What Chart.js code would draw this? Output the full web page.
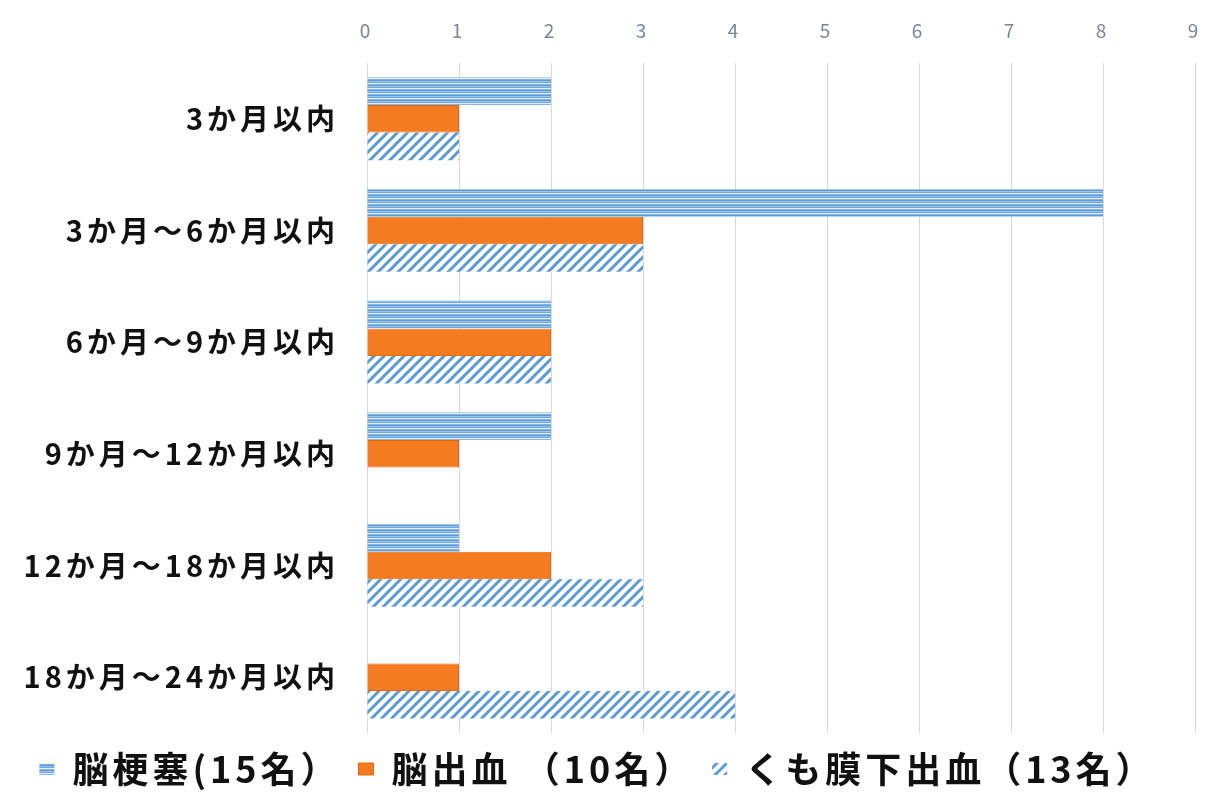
<!DOCTYPE html>
<html>
<head>
<meta charset="utf-8">
<script src="https://cdn.jsdelivr.net/npm/chart.js@4"></script>
<style>
  html, body { margin: 0; padding: 0; background: #fff; overflow: hidden; }
  #wrap { position: relative; width: 1211px; height: 801px; }
  #chart { display: block; }
</style>
</head>
<body>
<div id="wrap"><canvas id="chart"></canvas></div>
<script>
// data
const categories = ["3か月以内", "3か月～6か月以内", "6か月～9か月以内", "9か月～12か月以内", "12か月～18か月以内", "18か月～24か月以内"];
const infarction = [2, 8, 2, 2, 1, 0];
const hemorrhage = [1, 3, 2, 1, 2, 1];
const subarachnoid = [1, 3, 2, 0, 3, 4];
const seriesNames = ["脳梗塞(15名）", "脳出血 （10名）", "くも膜下出血（13名）"];
const xTicks = [0, 1, 2, 3, 4, 5, 6, 7, 8, 9];

const JP = "'Noto Sans CJK JP', 'Noto Sans', sans-serif";

// horizontal stripe fill for 脳梗塞
function stripePattern() {
  const c = document.createElement("canvas");
  c.width = 4; c.height = 5;
  const g = c.getContext("2d");
  const rows = ["#5b9bd5", "#9cc3e8", "#6fa6dc", "#e3eef9", "#86b5e2"];
  rows.forEach((col, i) => { g.fillStyle = col; g.fillRect(0, i, 4, 1); });
  return g.createPattern(c, "repeat");
}

// diagonal hatch fill for くも膜下出血
function hatchPattern() {
  const s = 10;
  const c = document.createElement("canvas");
  c.width = s; c.height = s;
  const g = c.getContext("2d");
  g.fillStyle = "#ffffff";
  g.fillRect(0, 0, s, s);
  g.strokeStyle = "#5b9bd5";
  g.lineWidth = 3;
  g.beginPath();
  g.moveTo(-2, s + 2); g.lineTo(s + 2, -2);
  g.moveTo(-2, 2); g.lineTo(2, -2);
  g.moveTo(s - 2, s + 2); g.lineTo(s + 2, s - 2);
  g.stroke();
  return g.createPattern(c, "repeat");
}

// the source text is set a little loose
const spacing = {
  id: "spacing",
  beforeLayout(chart) { chart.ctx.letterSpacing = "4px"; },
  beforeDraw(chart) { chart.ctx.letterSpacing = "4px"; }
};

const ctx = document.getElementById("chart").getContext("2d");
new Chart(ctx, {
  type: "bar",
  data: {
    labels: categories,
    datasets: [
      { label: seriesNames[0], data: infarction, backgroundColor: stripePattern(), borderWidth: 0 },
      { label: seriesNames[1], data: hemorrhage, backgroundColor: "#f47b20", borderColor: "#e06a12", borderWidth: 1 },
      { label: seriesNames[2], data: subarachnoid, backgroundColor: hatchPattern(), borderWidth: 0 }
    ]
  },
  plugins: [spacing],
  options: {
    indexAxis: "y",
    responsive: true,
    animation: false,
    maintainAspectRatio: false,
    layout: { padding: { left: 0, right: 16, top: 0, bottom: 4 } },
    datasets: { bar: { categoryPercentage: 0.74, barPercentage: 1.0 } },
    scales: {
      x: {
        position: "top",
        min: 0,
        max: 9,
        afterBuildTicks: s => { s.ticks = xTicks.map(v => ({ value: v })); },
        afterFit: s => { s.height = 63; s.paddingRight = 0; },
        grid: { color: "#d9d9d9", lineWidth: 1, drawTicks: false },
        border: { display: false },
        ticks: { color: "#7a8596", font: { family: JP, size: 19 }, padding: 21 }
      },
      y: {
        afterFit: s => { s.width = 367; },
        grid: { display: false },
        border: { display: false },
        ticks: { color: "#111", font: { family: JP, size: 29, weight: "bold" }, padding: 20 }
      }
    },
    plugins: {
      legend: {
        position: "bottom",
        labels: {
          color: "#111",
          font: { family: JP, size: 36, weight: "bold" },
          boxWidth: 15,
          boxHeight: 12,
          padding: 18
        }
      },
      tooltip: { enabled: false }
    }
  }
});
</script>
</body>
</html>
